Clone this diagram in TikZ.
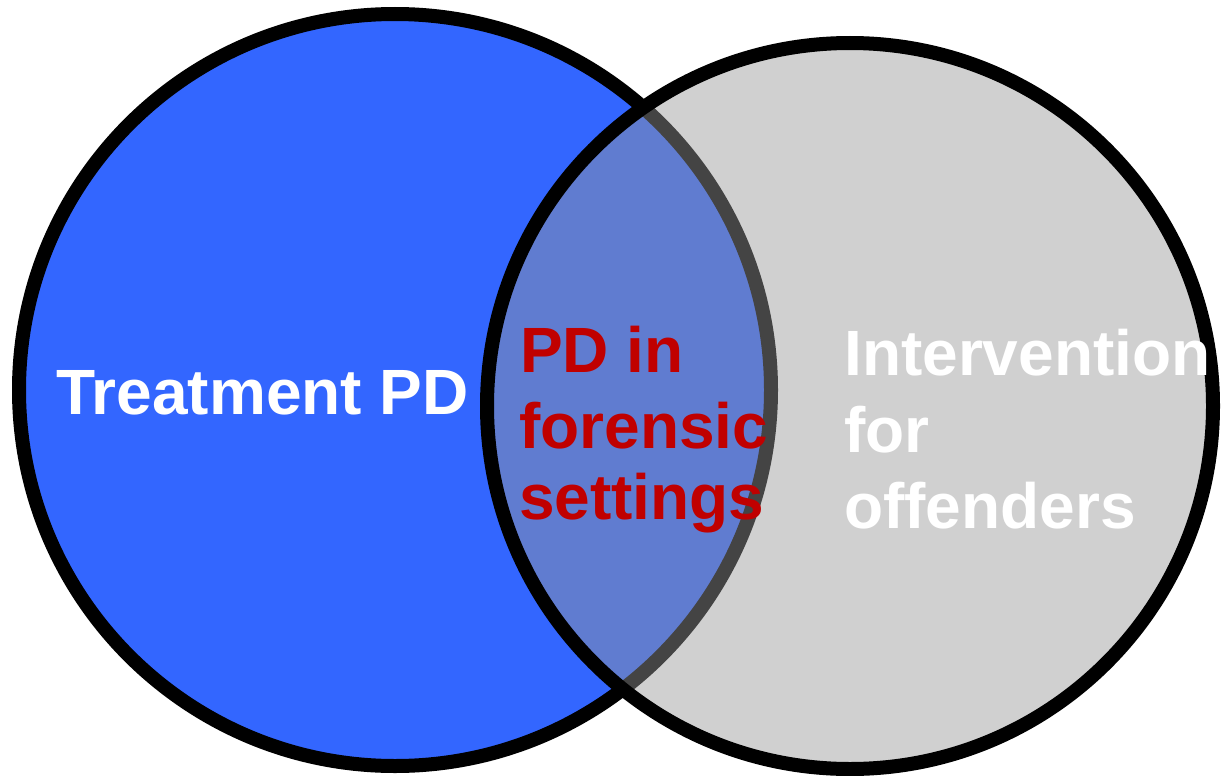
\documentclass[tikz,border=0pt]{standalone}
\usepackage{fontspec}
\setmainfont{Liberation Sans}
\definecolor{lblue}{RGB}{51,102,255}
\definecolor{rgray}{RGB}{151,151,151}
\definecolor{dred}{RGB}{192,0,0}
\tikzset{
  venn/.style={draw=black, line width=14pt},
  lbl/.style={anchor=base west, inner sep=0pt, font=\fontsize{64}{76}\selectfont\bfseries},
}
\begin{document}
\begin{tikzpicture}[x=1pt,y=-1pt]
\useasboundingbox (0,0) rectangle (1223,776);
\draw[venn, fill=lblue] (395,390) circle[radius=376];
\draw[venn, fill=rgray, fill opacity=0.45] (850,406) circle[radius=363];
\node[lbl, text=white] (tpd) at (56,414) {Treatment PD};
\node[lbl, text=dred] (c1) at (520,372) {PD in};
\node[lbl, text=dred] (c2) at (519,448) {forensic};
\node[lbl, text=dred] (c3) at (519,519) {settings};
\node[lbl, text=white] (r1) at (844,375) {Intervention};
\node[lbl, text=white] (r2) at (844,452) {for};
\node[lbl, text=white] (r3) at (844,528) {offenders};
\end{tikzpicture}
\end{document}
